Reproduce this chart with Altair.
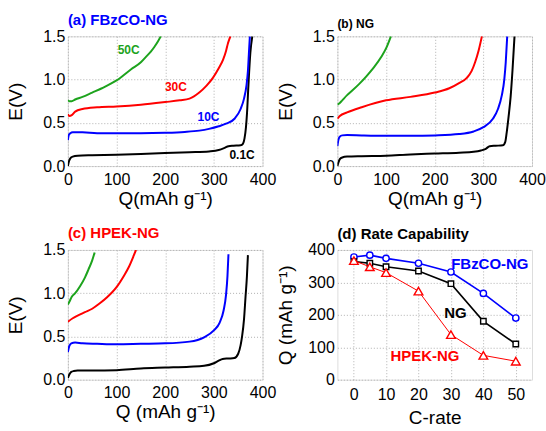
import altair as alt
import pandas as pd

FONT = "Liberation Sans"

RATES = ["0.1C", "10C", "30C", "50C"]
RATE_COLORS = ["#000000", "#0000ff", "#ff0000", "#1da31d"]

# ---- (a) FBzCO-NG discharge curves: Q (mAh/g) vs E (V) ----
A_Q_01 = [0, 2, 5, 10, 20, 50, 100, 150, 200, 250, 290, 310, 322, 330, 340, 355, 360, 363, 366, 368, 371, 375, 379]
A_E_01 = [0.0, 0.05, 0.09, 0.11, 0.12, 0.125, 0.13, 0.14, 0.15, 0.16, 0.17, 0.185, 0.21, 0.23, 0.235, 0.24, 0.26, 0.32, 0.45, 0.6, 0.93, 1.31, 1.5]
A_Q_10 = [0, 2, 5, 10, 30, 60, 100, 150, 200, 240, 270, 290, 310, 325, 343, 355, 362, 367, 370, 372, 374]
A_E_10 = [0.30, 0.36, 0.38, 0.39, 0.39, 0.38, 0.38, 0.38, 0.385, 0.395, 0.41, 0.43, 0.46, 0.49, 0.55, 0.66, 0.78, 0.93, 1.1, 1.3, 1.5]
A_Q_30 = [0, 3, 8, 15, 30, 60, 100, 150, 200, 230, 250, 270, 285, 298, 310, 319, 325, 329, 332, 334]
A_E_30 = [0.60, 0.58, 0.59, 0.63, 0.66, 0.68, 0.69, 0.71, 0.74, 0.76, 0.78, 0.85, 0.93, 1.02, 1.13, 1.23, 1.33, 1.42, 1.47, 1.5]
A_Q_50 = [0, 3, 8, 15, 30, 50, 70, 100, 130, 150, 160, 170, 178, 185, 191]
A_E_50 = [0.76, 0.75, 0.75, 0.77, 0.80, 0.85, 0.90, 0.99, 1.12, 1.20, 1.26, 1.32, 1.38, 1.44, 1.5]

# ---- (b) NG ----
B_Q_01 = [0, 2, 5, 10, 20, 50, 100, 150, 200, 250, 280, 295, 305, 313, 325, 340, 345, 348, 352, 356, 360, 364]
B_E_01 = [0.0, 0.04, 0.08, 0.10, 0.11, 0.115, 0.12, 0.135, 0.145, 0.155, 0.165, 0.18, 0.20, 0.23, 0.235, 0.24, 0.28, 0.39, 0.58, 0.8, 1.12, 1.5]
B_Q_10 = [0, 2, 5, 10, 20, 50, 100, 150, 200, 250, 280, 300, 320, 330, 338, 343, 346, 349]
B_E_10 = [0.23, 0.30, 0.34, 0.355, 0.36, 0.355, 0.35, 0.35, 0.355, 0.37, 0.40, 0.45, 0.55, 0.66, 0.82, 1.0, 1.2, 1.5]
B_Q_30 = [0, 5, 20, 50, 100, 150, 200, 230, 250, 266, 276, 283, 290, 297]
B_E_30 = [0.55, 0.58, 0.62, 0.68, 0.76, 0.80, 0.85, 0.90, 0.96, 1.02, 1.10, 1.2, 1.33, 1.5]
B_Q_50 = [0, 5, 10, 20, 30, 45, 60, 75, 90, 100, 110]
B_E_50 = [0.71, 0.73, 0.76, 0.82, 0.87, 0.95, 1.04, 1.14, 1.26, 1.36, 1.5]

# ---- (c) HPEK-NG ----
C_Q_01 = [0, 3, 7, 12, 20, 50, 100, 150, 200, 250, 280, 300, 310, 318, 330, 342, 350, 355, 358, 362, 365, 368, 370]
C_E_01 = [0.02, 0.06, 0.09, 0.10, 0.105, 0.105, 0.11, 0.13, 0.14, 0.15, 0.16, 0.19, 0.22, 0.24, 0.245, 0.25, 0.3, 0.4, 0.5, 0.7, 0.95, 1.2, 1.44]
C_Q_10 = [0, 3, 7, 15, 30, 60, 100, 150, 200, 250, 280, 300, 312, 320, 325, 328, 330]
C_E_10 = [0.32, 0.39, 0.42, 0.43, 0.42, 0.415, 0.41, 0.415, 0.42, 0.44, 0.49, 0.57, 0.66, 0.8, 0.98, 1.2, 1.45]
C_Q_30 = [0, 10, 20, 35, 50, 65, 80, 100, 115, 125, 135, 140]
C_E_30 = [0.67, 0.71, 0.74, 0.78, 0.82, 0.88, 0.95, 1.07, 1.2, 1.3, 1.43, 1.5]
C_Q_50 = [0, 3, 8, 15, 25, 35, 42, 50, 55]
C_E_50 = [0.87, 0.90, 0.96, 1.0, 1.08, 1.18, 1.27, 1.38, 1.47]

# Rate labels drawn inside panel (a)
A_LABELS = ["50C", "30C", "10C", "0.1C"]
A_LABEL_Q = [125, 222, 289, 358]
A_LABEL_E = [1.34, 0.91, 0.57, 0.13]
A_LABEL_COLORS = ["#1da31d", "#ff0000", "#0000ff", "#000000"]

# ---- (d) rate capability ----
C_RATE = [0.1, 5, 10, 20, 30, 40, 50]
CAP_FBZCO = [378, 384, 374, 359, 332, 266, 190]
CAP_NG = [364, 359, 348, 335, 296, 180, 110]
CAP_HPEK = [367, 348, 330, 273, 139, 75, 57]
D_LABELS = ["FBzCO-NG", "NG", "HPEK-NG"]
D_LABEL_X = [42, 31.4, 22]
D_LABEL_Y = [358, 206, 73]
D_LABEL_COLORS = ["#0000ff", "#000000", "#ff0000"]

PLOT_W, PLOT_H = 195, 130


def curves(pairs):
    rows = []
    for rate, qs, es in pairs:
        for i, (q, e) in enumerate(zip(qs, es)):
            rows.append({"rate": rate, "Q": q, "E": e, "idx": i})
    return pd.DataFrame(rows)


def x_axis(title, values, label_pad=5, extent=22, title_pad=1):
    return alt.Axis(
        title=title, values=values, grid=True, gridDash=[1, 2], gridColor="#b0b0b0",
        ticks=False, tickSize=0, domain=False, labelFontSize=16, titleFontSize=19,
        labelPadding=label_pad, minExtent=extent, maxExtent=extent, titlePadding=title_pad,
        labelColor="#000", titleColor="#000", titleFontWeight="normal", labelOverlap=False,
        labelFlush=False, labelFont=FONT, titleFont=FONT,
    )


def y_axis(title, values, fmt):
    return alt.Axis(
        title=title, values=values, format=fmt, grid=True, gridDash=[1, 2], gridColor="#b0b0b0",
        ticks=False, tickSize=0, domain=False, labelFontSize=16, titleFontSize=19,
        labelPadding=3, minExtent=36, maxExtent=36, titlePadding=6,
        labelColor="#000", titleColor="#000", titleFontWeight="normal", labelOverlap=False,
        labelFlush=False, labelFont=FONT, titleFont=FONT,
    )


def panel_title(text, color, size, offset):
    return alt.TitleParams(text=text, anchor="start", frame="group", color=color,
                           fontSize=size, fontWeight="bold", font=FONT, offset=offset)


def curve_panel(df, title, x_title, labels=None):
    ex = alt.X("Q:Q", scale=alt.Scale(domain=[0, 400], nice=False),
               axis=x_axis(x_title, [0, 100, 200, 300, 400]))
    ey = alt.Y("E:Q", scale=alt.Scale(domain=[0, 1.5], nice=False),
               axis=y_axis("E(V)", [0, 0.5, 1.0, 1.5], ".1f"))
    lines = alt.Chart(df).mark_line(strokeWidth=2, interpolate="monotone", clip=True).encode(
        x=ex, y=ey,
        color=alt.Color("rate:N", scale=alt.Scale(domain=RATES, range=RATE_COLORS), legend=None),
        detail="rate:N",
        order="idx:Q",
    )
    layers = [lines]
    if labels is not None:
        txt = alt.Chart(labels).mark_text(font=FONT, fontSize=12, fontWeight="bold").encode(
            x=ex, y=ey, text="label:N",
            color=alt.Color("col:N", scale=None),
        )
        layers.append(txt)
    return alt.layer(*layers).properties(width=PLOT_W, height=PLOT_H, title=title)


df_a = curves([("0.1C", A_Q_01, A_E_01), ("10C", A_Q_10, A_E_10),
               ("30C", A_Q_30, A_E_30), ("50C", A_Q_50, A_E_50)])
df_b = curves([("0.1C", B_Q_01, B_E_01), ("10C", B_Q_10, B_E_10),
               ("30C", B_Q_30, B_E_30), ("50C", B_Q_50, B_E_50)])
df_c = curves([("0.1C", C_Q_01, C_E_01), ("10C", C_Q_10, C_E_10),
               ("30C", C_Q_30, C_E_30), ("50C", C_Q_50, C_E_50)])
lab_a = pd.DataFrame({"label": A_LABELS, "Q": A_LABEL_Q, "E": A_LABEL_E, "col": A_LABEL_COLORS})

qx = "Q(mAh g\u207b\u00b9)"
panel_a = curve_panel(df_a, panel_title("(a) FBzCO-NG", "#0000ff", 15, 0), qx, lab_a)
panel_b = curve_panel(df_b, panel_title("(b) NG", "#000000", 12, -3), qx)
panel_c = curve_panel(df_c, panel_title("(c) HPEK-NG", "#ff0000", 15, 1), "Q (mAh g\u207b\u00b9)")

# Rate capability panel
rate_df = pd.concat([
    pd.DataFrame({"sample": "FBzCO-NG", "rate": C_RATE, "cap": CAP_FBZCO}),
    pd.DataFrame({"sample": "NG", "rate": C_RATE, "cap": CAP_NG}),
    pd.DataFrame({"sample": "HPEK-NG", "rate": C_RATE, "cap": CAP_HPEK}),
])
dx = alt.X("rate:Q", scale=alt.Scale(domain=[-5, 55], nice=False),
           axis=x_axis("C-rate", [0, 10, 20, 30, 40, 50], label_pad=7, extent=26, title_pad=3))
dy = alt.Y("cap:Q", scale=alt.Scale(domain=[0, 400], nice=False),
           axis=y_axis("Q (mAh g\u207b\u00b9)", [0, 100, 200, 300, 400], "d"))

styles = [
    ("FBzCO-NG", "#0000ff", "circle", 40, 1.6),
    ("NG", "#000000", "square", 30, 1.6),
    ("HPEK-NG", "#ff0000", "triangle-up", 75, 1.0),
]
d_layers = []
for name, col, shape, size, sw in styles:
    sub = alt.Chart(rate_df).transform_filter(alt.datum.sample == name)
    d_layers.append(sub.mark_line(color=col, strokeWidth=sw).encode(x=dx, y=dy))
    d_layers.append(sub.mark_point(shape=shape, size=size, color=col, filled=False,
                                   fill="white", fillOpacity=1, strokeWidth=1.4, opacity=1)
                    .encode(x=dx, y=dy))

lab_d = pd.DataFrame({"label": D_LABELS, "rate": D_LABEL_X, "cap": D_LABEL_Y, "col": D_LABEL_COLORS})
d_layers.append(
    alt.Chart(lab_d).mark_text(font=FONT, fontSize=15, fontWeight="bold").encode(
        x=dx, y=dy, text="label:N",
        color=alt.Color("col:N", scale=None),
    )
)
panel_d = alt.layer(*d_layers).properties(
    width=PLOT_W, height=PLOT_H,
    title=panel_title("(d) Rate Capability", "#000000", 15, 0),
)

# 2x2 grid; flush bounds so spacing is measured between plot frames
chart = alt.concat(
    panel_a, panel_b, panel_c, panel_d,
    columns=2, spacing=alt.RowColnumber(row=84, column=75), bounds="flush",
).properties(
    padding={"left": 6, "top": 12, "right": 0, "bottom": 0},
    background="white",
).configure_view(stroke="#555555", strokeWidth=1).configure(font=FONT)

chart.save("out.html", embed_options={"renderer": "svg", "actions": False})
